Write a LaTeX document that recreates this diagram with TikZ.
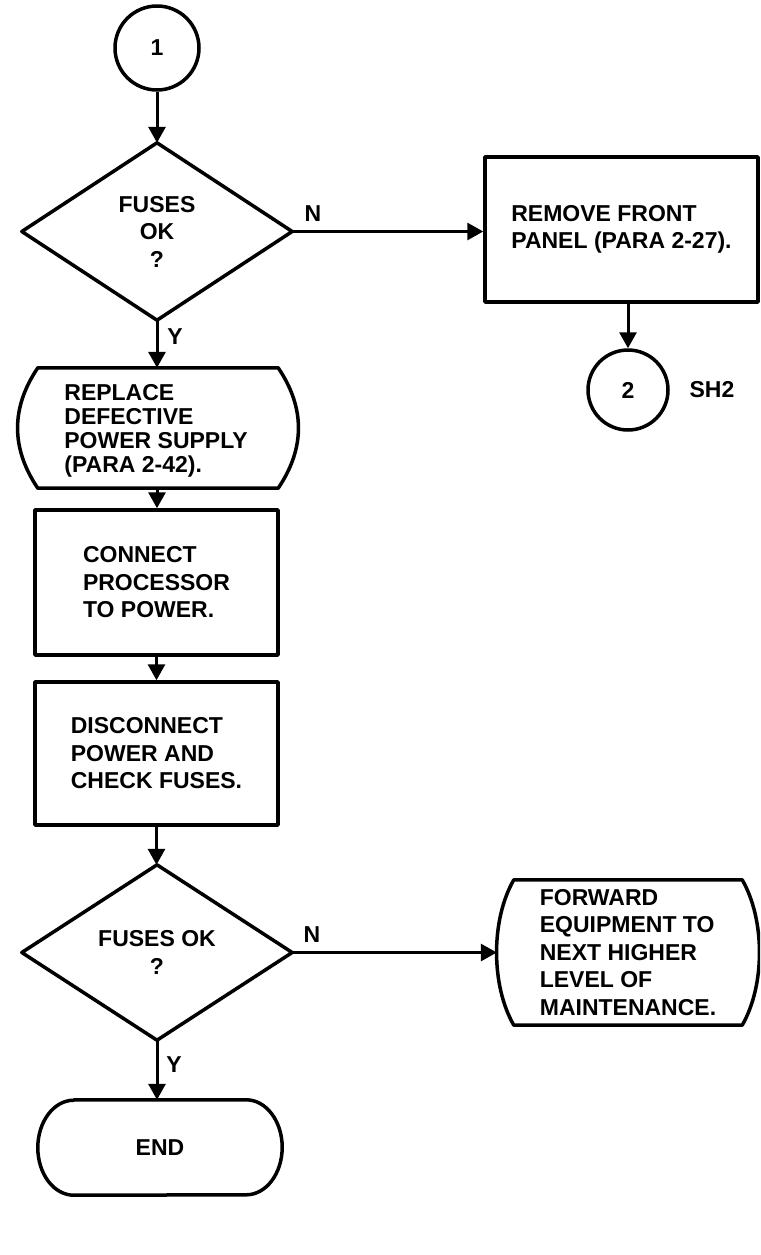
\documentclass[tikz,border=0pt]{standalone}
\usepackage{fontspec}
\setmainfont{Liberation Sans}
\usetikzlibrary{arrows.meta,calc}

% Outline of a "display" block: straight top and bottom, bulging sides.
% #1 node name, #2 inset of the corners, #3 control-point overshoot
\newcommand{\drawdisplay}[3]{%
  \draw[outline] ($(#1.north west)+(#2,0)$) -- ($(#1.north east)+(-#2,0)$)
    .. controls ($(#1.north east)+(#3,40)$) and ($(#1.south east)+(#3,-40)$) .. ($(#1.south east)+(-#2,0)$)
    -- ($(#1.south west)+(#2,0)$)
    .. controls ($(#1.south west)+(-#3,-40)$) and ($(#1.north west)+(-#3,40)$) .. cycle;}

\begin{document}
\begin{tikzpicture}[x=1pt,y=-1pt,
  every node/.style={font=\bfseries\fontsize{23}{27.5}\selectfont, inner sep=0pt},
  outline/.style={line width=3.5pt, line join=round},
  flow/.style={line width=3pt, -{Triangle[length=16pt,width=17pt]}},
  block/.style={rectangle, draw, outline, align=left},
  frame/.style={rectangle, align=left},
  connector/.style={circle, draw, outline, minimum size=#1},
  decision/.style={rectangle, align=center, minimum width=270pt, minimum height=#1},
  tag/.style={}
]
\useasboundingbox (0,0) rectangle (760,1255);
\clip (0,0) rectangle (760,1255);

% ---- nodes ----
\node[connector=84pt] (c1) at (157,48) {1};

\node[decision=177pt] (d1) at (157,231.5) {FUSES\\OK\\?};
\draw[outline] (d1.north) -- (d1.east) -- (d1.south) -- (d1.west) -- cycle;

\node[block, minimum width=273pt, minimum height=145pt] (rem) at (621.5,229.5)
  {REMOVE FRONT\\PANEL (PARA 2-27).};
\node[connector=80pt] (c2) at (628,390) {2};
\node[tag] (sh) at (712,390) {SH2};

\node[frame, minimum width=280pt, minimum height=120pt] (rep) at (158,428) {};
\node[align=left, font=\bfseries\fontsize{23}{24}\selectfont] (reptext) at (156,431)
  {REPLACE\\DEFECTIVE\\POWER SUPPLY\\(PARA 2-42).};
\drawdisplay{rep}{20}{7}

\node[block, minimum width=243pt, minimum height=145pt] (con) at (156.5,582.5)
  {CONNECT\\PROCESSOR\\TO POWER.};

\node[block, minimum width=243pt, minimum height=143pt] (dis) at (156.5,753.5)
  {DISCONNECT\\POWER AND\\CHECK FUSES.};

\node[decision=175pt] (d2) at (157,952.5) {FUSES OK\\?};
\draw[outline] (d2.north) -- (d2.east) -- (d2.south) -- (d2.west) -- cycle;

\node[frame, minimum width=262pt, minimum height=145pt] (fwd) at (628,952.5)
  {FORWARD\\EQUIPMENT TO\\NEXT HIGHER\\LEVEL OF\\MAINTENANCE.};
\drawdisplay{fwd}{17}{6}

\node[frame, minimum width=244pt, minimum height=95pt] (end) at (160,1147.5) {END};
\draw[outline] ($(end.north west)+(36,0)$) -- ($(end.north east)+(-36,0)$)
  arc[start angle=-90, end angle=90, x radius=36, y radius=47.5]
  -- ($(end.south west)+(36,0)$)
  arc[start angle=90, end angle=270, x radius=36, y radius=47.5] -- cycle;

% ---- branch labels ----
\node[tag] (n1) at (313,214) {N};
\node[tag] (y1) at (175,337) {Y};
\node[tag] (n2) at (312,935) {N};
\node[tag] (y2) at (174,1065) {Y};

% ---- connectors ----
\draw[flow] (c1.south) -- (c1.south |- d1.north);
\draw[flow] (d1.east) -- (d1.east -| rem.west);
\draw[flow] (rem.south -| c2.north) -- (c2.north);
\draw[flow] (d1.south) -- (d1.south |- rep.north);
\draw[flow] (rep.south -| d1.south) -- (d1.south |- con.north);
\draw[flow] (con.south) -- (con.south |- dis.north);
\draw[flow] (dis.south) -- (dis.south |- d2.north);
\draw[flow] (d2.east) -- (d2.east -| fwd.west);
\draw[flow] (d2.south) -- (d2.south |- end.north);
\end{tikzpicture}
\end{document}
